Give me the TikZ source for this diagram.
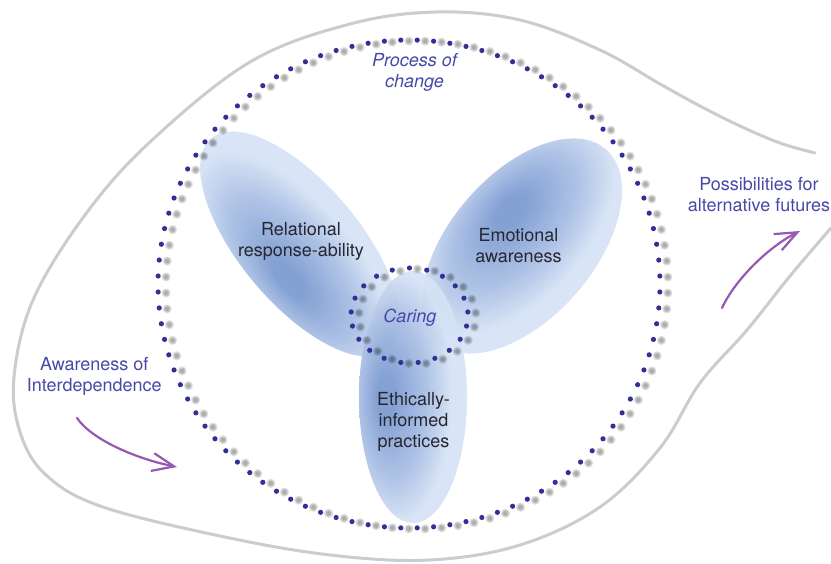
\documentclass[tikz,border=0pt]{standalone}
\usepackage{fontspec}
\setmainfont{TeX Gyre Heros}
\usetikzlibrary{arrows.meta}

\definecolor{dotblue}{RGB}{48,48,150}
\definecolor{labelblue}{RGB}{72,72,168}
\definecolor{labelgray}{RGB}{38,38,48}
\definecolor{rimgray}{RGB}{200,205,210}
\definecolor{arrowpurple}{RGB}{150,88,178}
\definecolor{petaldark}{RGB}{122,153,208}
\definecolor{petalmid}{RGB}{168,190,228}
\definecolor{petallight}{RGB}{214,226,245}

\pgfdeclareradialshading{relshade}{\pgfpoint{4bp}{-14bp}}{color(0bp)=(petaldark); color(4bp)=(petaldark); color(16bp)=(petalmid); color(25bp)=(petallight); color(50bp)=(petallight)}
\pgfdeclareradialshading{emoshade}{\pgfpoint{4bp}{12bp}}{color(0bp)=(petaldark); color(4bp)=(petaldark); color(16bp)=(petalmid); color(25bp)=(petallight); color(50bp)=(petallight)}
\pgfdeclareradialshading{ethshade}{\pgfpoint{-14bp}{0bp}}{color(0bp)=(petaldark); color(4bp)=(petaldark); color(16bp)=(petalmid); color(25bp)=(petallight); color(50bp)=(petallight)}

\begin{document}
\begin{tikzpicture}[x=1pt,y=-1pt,
	darktext/.style={text=labelgray,font=\fontsize{18}{21}\selectfont,align=center,inner sep=0pt},
	bluetext/.style={text=labelblue,font=\fontsize{18}{21}\selectfont,align=center,inner sep=0pt},
	petal/.style={opacity=0.92},
	rim/.style={draw=rimgray,line width=3pt,line cap=round},
	nudge/.style={draw=arrowpurple,line width=2.2pt,line cap=round,-{Straight Barb[length=22pt,width=18pt]}},
	bead/.style={fill=dotblue},
	beadshadow/.style={fill=black,opacity=0.12}]

	\useasboundingbox (0,0) rectangle (831,564);

	% the open drop round everything
	\draw[rim] plot[smooth,tension=0.6] coordinates {(815,153) (780,143) (740,126) (700,106) (660,84) (600,50) (520,20) (437,12) (350,24) (250,62) (150,142) (85,215) (33,300) (14,377) (20,432) (45,474) (100,506) (220,536) (330,555) (430,560) (520,545) (600,507) (660,448) (700,383) (747,330) (790,276) (831,228)};

	% three petals
	\shade[petal,shading=relshade,transform canvas={shift={(300,244)},rotate=-50}] (0,0) ellipse [x radius=138,y radius=60];
	\shade[petal,shading=emoshade,transform canvas={shift={(522,246)},rotate=49}] (0,0) ellipse [x radius=128,y radius=72];
	\shade[petal,shading=ethshade] (413,397) ellipse [x radius=54,y radius=126];

	% dotted rings
	\foreach \a in {0,...,95}{
		\pgfmathsetmacro{\t}{91.875+3.75*\a}
		\fill[beadshadow] ({417+251*cos(\t)},{285-244*sin(\t)}) circle (4.6);
		\fill[beadshadow] ({417+251*cos(\t)},{285-244*sin(\t)}) circle (3.4);
		\fill[beadshadow] ({417+251*cos(\t)},{285-244*sin(\t)}) circle (2.2);
		\fill[bead] ({409+251*cos(\t)},{284-244*sin(\t)}) circle (2.6);
	}
	\foreach \a in {0,...,20}{
		\pgfmathsetmacro{\t}{90+360/21*\a}
		\fill[beadshadow] ({417.5+58.5*cos(\t)},{316.5-47.5*sin(\t)}) circle (4.6);
		\fill[beadshadow] ({417.5+58.5*cos(\t)},{316.5-47.5*sin(\t)}) circle (3.4);
		\fill[beadshadow] ({417.5+58.5*cos(\t)},{316.5-47.5*sin(\t)}) circle (2.2);
		\fill[bead] ({409.5+58.5*cos(\t)},{315.5-47.5*sin(\t)}) circle (2.6);
	}

	\node[bluetext,font=\fontsize{18}{21}\selectfont\itshape] (process) at (414.5,72.7) {Process of\\change};
	\node[darktext] (relational) at (301,241.7) {Relational\\response-ability};
	\node[darktext] (emotional) at (518.5,245.7) {Emotional\\awareness};
	\node[darktext] (ethical) at (413.5,421.5) {Ethically-\\informed\\practices};
	\node[bluetext,font=\fontsize{18}{21}\selectfont\itshape,anchor=base] (caring) at (410,322.7) {Caring};
	\node[bluetext] (awareness) at (94.3,376.8) {Awareness of\\Interdependence};
	\node[bluetext] (possibilities) at (759,194.7) {Possibilities for\\alternative futures};

	\coordinate (aw-tail) at (77,418);
	\coordinate (aw-head) at (177,467);
	\coordinate (fut-tail) at (722,308);
	\coordinate (fut-head) at (800,231);
	\draw[nudge] (aw-tail) .. controls +(15,22) and +(-40,-8) .. (aw-head);
	\draw[nudge] (fut-tail) .. controls +(14,-30) and +(-30,15) .. (fut-head);

\end{tikzpicture}
\end{document}
